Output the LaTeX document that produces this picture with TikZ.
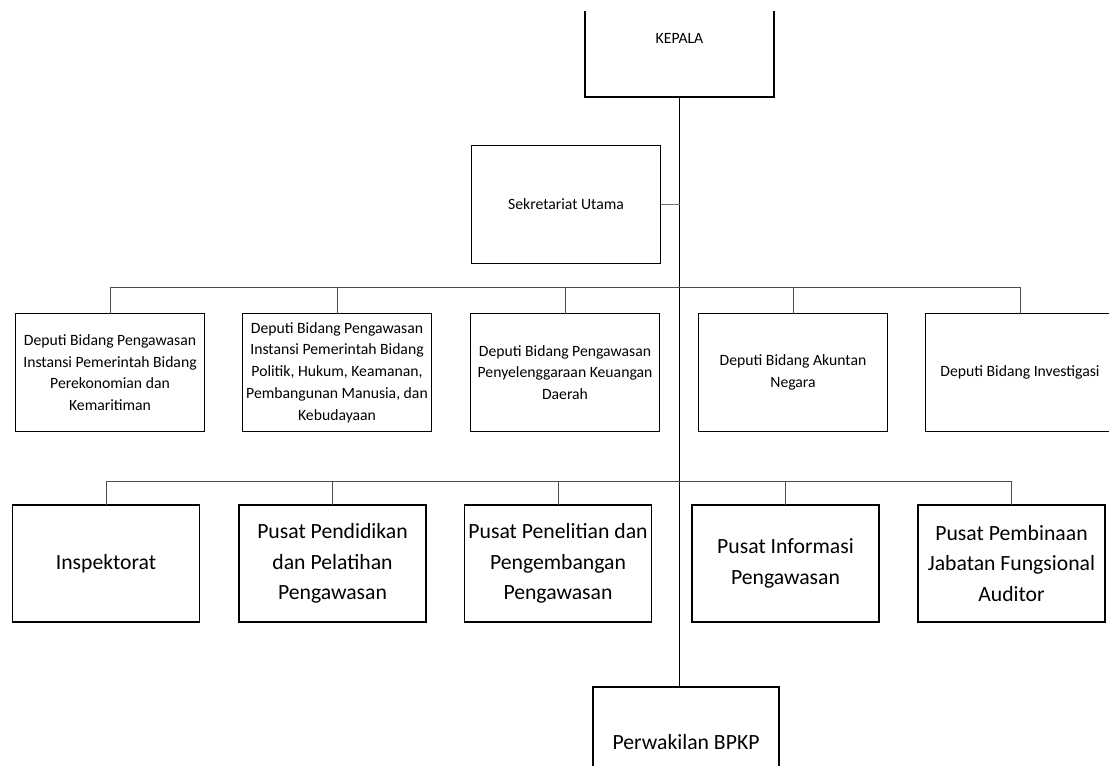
\documentclass[tikz,border=0pt]{standalone}
\usepackage{fontspec}
\setmainfont{Carlito}
\usepackage{tikz}
\usetikzlibrary{positioning}
\usetikzlibrary{calc}
\tikzstyle{unit}=[draw,line width=1.2pt,fill=white,inner sep=2pt,outer sep=0pt,align=center]
\tikzstyle{small}=[unit,minimum width=189pt,minimum height=118pt,font=\fontsize{15.7}{21.7}\selectfont]
\tikzstyle{large}=[unit,minimum width=187pt,minimum height=117pt,font=\fontsize{21.7}{30.5}\selectfont]
\tikzstyle{link}=[line width=1pt,black!70]

\begin{document}
\begin{tikzpicture}[x=1pt,y=-1pt]
\useasboundingbox (0,0) rectangle (1109,766);
\fill[white] (0,0) rectangle (1109,766);
\clip (0,11) rectangle (1109,766);
    \node [small] (kepala) at (679.5,38) {KEPALA};
    \node [small] (sekut) at (566,204.5) {Sekretariat Utama};
% deputi
    \node [small] (dep1) at (110,372.5) {Deputi Bidang Pengawasan\\Instansi Pemerintah Bidang\\Perekonomian dan\\Kemaritiman};
    \node [small] (dep2) at (337,372.5) {Deputi Bidang Pengawasan\\Instansi Pemerintah Bidang\\Politik, Hukum, Keamanan,\\Pembangunan Manusia, dan\\Kebudayaan};
    \node [small] (dep3) at (565,372.5) {Deputi Bidang Pengawasan\\Penyelenggaraan Keuangan\\Daerah};
    \node [small] (dep4) at (793,372.5) {Deputi Bidang Akuntan\\Negara};
    \node [small] (dep5) at (1020,372.5) {Deputi Bidang Investigasi};
% pusat
    \node [large] (insp) at (106,563.5) {Inspektorat};
    \node [large] (pusdik) at (332.5,563.5) {Pusat Pendidikan\\dan Pelatihan\\Pengawasan};
    \node [large] (puslit) at (558,563.5) {Pusat Penelitian dan\\Pengembangan\\Pengawasan};
    \node [large] (pusinf) at (785.5,563.5) {Pusat Informasi\\Pengawasan};
    \node [large] (pusbin) at (1011.5,563.5) {Pusat Pembinaan\\Jabatan Fungsional\\Auditor};
    \node [large,minimum width=186pt,minimum height=110pt] (perw) at (686,742) {Perwakilan BPKP};
\coordinate (busA) at ($(kepala.south)+(0,190)$);
\coordinate (busB) at ($(kepala.south)+(0,384)$);
%\coordinate (busC) at (680,687);
\draw[line width=1pt] (kepala.south) -- (kepala.south |- perw.north);
\draw[link,line width=1.6pt,black!55] (sekut.east) -- (sekut.east -| kepala.south);
\foreach \d in {dep1,dep2,dep3,dep4,dep5}
  \draw[link] (busA) -| (\d.north);
\foreach \p in {insp,pusdik,puslit,pusinf,pusbin}
  \draw[link] (busB) -| (\p.north);
\end{tikzpicture}
\end{document}
